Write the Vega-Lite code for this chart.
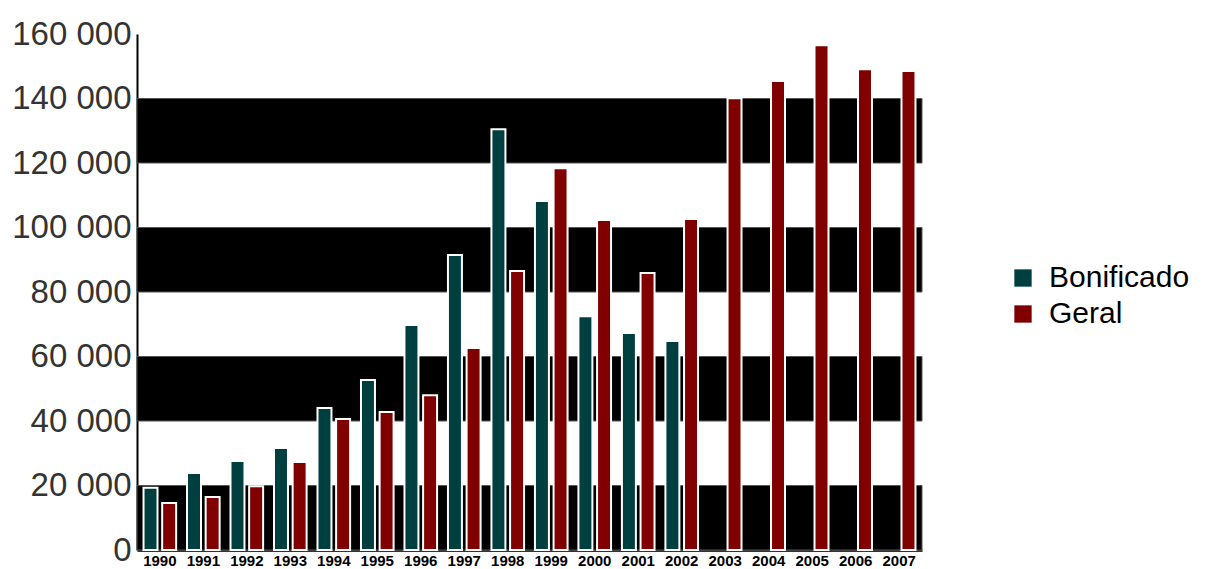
{
  "$schema": "https://vega.github.io/schema/vega-lite/v6.json",
  "width": 785,
  "height": 516,
  "autosize": {"type": "none"},
  "padding": {"left": 137, "top": 34, "right": 289, "bottom": 19},
  "background": "white",
  "config": {
    "locale": {"number": {"decimal": ",", "thousands": " ", "grouping": [3], "currency": ["", ""]}},
    "view": {"stroke": null},
    "font": "Liberation Sans"
  },
  "datasets": {
    "bands": [
      {"lo": 0, "hi": 20000},
      {"lo": 40000, "hi": 60000},
      {"lo": 80000, "hi": 100000},
      {"lo": 120000, "hi": 140000}
    ],
    "bars": [
      {"ano": "1990", "serie": "Bonificado", "valor": 19300},
      {"ano": "1990", "serie": "Geral", "valor": 14600},
      {"ano": "1991", "serie": "Bonificado", "valor": 23900},
      {"ano": "1991", "serie": "Geral", "valor": 16400},
      {"ano": "1992", "serie": "Bonificado", "valor": 27600},
      {"ano": "1992", "serie": "Geral", "valor": 19800},
      {"ano": "1993", "serie": "Bonificado", "valor": 31600},
      {"ano": "1993", "serie": "Geral", "valor": 27300},
      {"ano": "1994", "serie": "Bonificado", "valor": 44000},
      {"ano": "1994", "serie": "Geral", "valor": 40600},
      {"ano": "1995", "serie": "Bonificado", "valor": 52700},
      {"ano": "1995", "serie": "Geral", "valor": 42800},
      {"ano": "1996", "serie": "Bonificado", "valor": 69800},
      {"ano": "1996", "serie": "Geral", "valor": 48000},
      {"ano": "1997", "serie": "Bonificado", "valor": 91500},
      {"ano": "1997", "serie": "Geral", "valor": 62600},
      {"ano": "1998", "serie": "Bonificado", "valor": 130500},
      {"ano": "1998", "serie": "Geral", "valor": 86500},
      {"ano": "1999", "serie": "Bonificado", "valor": 108200},
      {"ano": "1999", "serie": "Geral", "valor": 118400},
      {"ano": "2000", "serie": "Bonificado", "valor": 72500},
      {"ano": "2000", "serie": "Geral", "valor": 102300},
      {"ano": "2001", "serie": "Bonificado", "valor": 67300},
      {"ano": "2001", "serie": "Geral", "valor": 85900},
      {"ano": "2002", "serie": "Bonificado", "valor": 64800},
      {"ano": "2002", "serie": "Geral", "valor": 102600},
      {"ano": "2003", "serie": "Geral", "valor": 140100},
      {"ano": "2004", "serie": "Geral", "valor": 145400},
      {"ano": "2005", "serie": "Geral", "valor": 156500},
      {"ano": "2006", "serie": "Geral", "valor": 149100},
      {"ano": "2007", "serie": "Geral", "valor": 148500}
    ]
  },
  "layer": [
    {
      "data": {"name": "bands"},
      "mark": {"type": "rect", "color": "black", "stroke": "#555", "strokeWidth": 1},
      "encoding": {
        "y": {"field": "lo", "type": "quantitative", "scale": {"domain": [0, 160000]}},
        "y2": {"field": "hi"}
      }
    },
    {
      "data": {"name": "bars"},
      "mark": {"type": "bar", "stroke": "white", "strokeWidth": 2},
      "encoding": {
        "x": {
          "field": "ano", "type": "nominal",
          "scale": {"paddingInner": 0.25, "paddingOuter": 0.15},
          "axis": {
            "title": null, "labelAngle": 0, "labelFontSize": 15, "labelFontWeight": "bold",
            "labelColor": "black", "ticks": false, "labelPadding": 3,
            "domainColor": "#333", "domainWidth": 3
          }
        },
        "xOffset": {"field": "serie", "type": "nominal", "scale": {"domain": ["Bonificado", "Geral"], "paddingInner": 0.25}},
        "y": {
          "field": "valor", "type": "quantitative",
          "scale": {"domain": [0, 160000]},
          "axis": {
            "title": null, "format": ",d", "values": [0, 20000, 40000, 60000, 80000, 100000, 120000, 140000, 160000],
            "labelFontSize": 33, "labelColor": "#333", "ticks": false, "labelPadding": 6,
            "labelOverlap": false, "labelBound": false, "labelFlush": false,
            "domainColor": "black", "domainWidth": 2, "grid": false
          }
        },
        "color": {
          "field": "serie", "type": "nominal",
          "scale": {"domain": ["Bonificado", "Geral"], "range": ["#003f3f", "#800000"]},
          "legend": {
            "title": null, "orient": "none", "legendX": 871, "legendY": 229,
            "symbolType": "square", "symbolSize": 300, "symbolStrokeWidth": 0,
            "labelFontSize": 30, "labelColor": "black", "labelOffset": 11, "rowPadding": 6
          }
        }
      }
    }
  ]
}
